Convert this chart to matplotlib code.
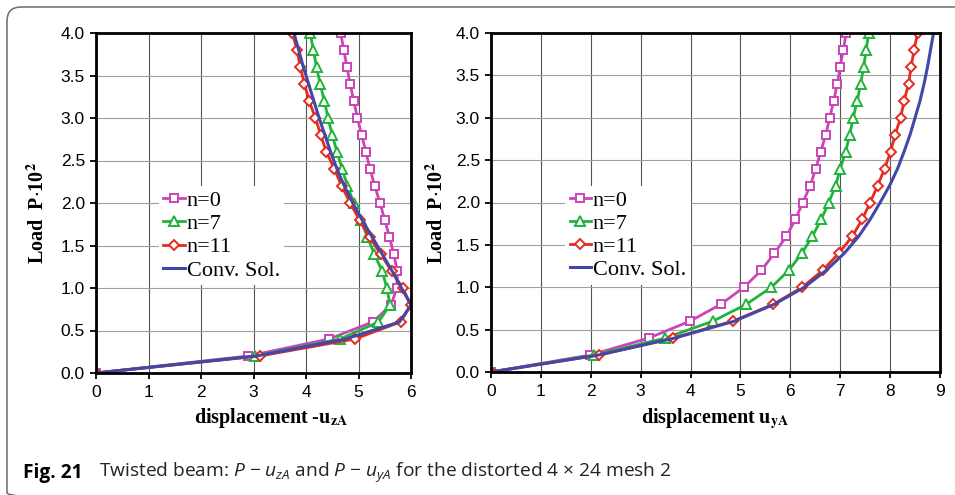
# %% importing modules
import matplotlib
matplotlib.use('Agg')
import matplotlib.pyplot as plt
from matplotlib.patches import FancyBboxPatch

# %% data (load steps of 0.2, P*10^2)
load = [0.0, 0.2, 0.4, 0.6, 0.8, 1.0, 1.2, 1.4, 1.6, 1.8, 2.0,
        2.2, 2.4, 2.6, 2.8, 3.0, 3.2, 3.4, 3.6, 3.8, 4.0]

# displacement -u_zA
uz_n0 = [0, 2.90, 4.44, 5.27, 5.62, 5.73, 5.74, 5.67, 5.59, 5.50, 5.41,
         5.31, 5.22, 5.14, 5.06, 4.98, 4.91, 4.84, 4.78, 4.72, 4.66]
uz_n7 = [0, 3.02, 4.65, 5.38, 5.60, 5.54, 5.45, 5.30, 5.17, 5.04, 4.91,
         4.79, 4.69, 4.59, 4.50, 4.42, 4.35, 4.27, 4.20, 4.14, 4.08]
uz_n11 = [0, 3.12, 4.93, 5.80, 6.00, 5.84, 5.63, 5.42, 5.21, 5.02, 4.84,
          4.68, 4.54, 4.39, 4.28, 4.18, 4.06, 3.97, 3.89, 3.83, 3.74]
uz_conv = [0, 3.05, 4.75, 5.78, 6.00, 5.82, 5.64, 5.45, 5.26, 5.07, 4.89,
           4.73, 4.59, 4.47, 4.36, 4.25, 4.15, 4.05, 3.95, 3.86, 3.77]

# displacement u_yA
uy_n0 = [0, 1.99, 3.16, 3.99, 4.61, 5.07, 5.42, 5.68, 5.92, 6.10, 6.25,
         6.40, 6.51, 6.61, 6.71, 6.79, 6.87, 6.94, 7.00, 7.06, 7.12]
uy_n7 = [0, 2.07, 3.49, 4.45, 5.12, 5.62, 5.97, 6.23, 6.44, 6.62, 6.77,
         6.91, 7.00, 7.11, 7.19, 7.26, 7.34, 7.41, 7.47, 7.52, 7.57]
uy_n11 = [0, 2.17, 3.64, 4.85, 5.66, 6.24, 6.65, 6.97, 7.24, 7.44, 7.60,
          7.75, 7.89, 8.01, 8.10, 8.21, 8.28, 8.37, 8.42, 8.48, 8.55]
uy_conv = [0, 2.15, 3.68, 4.88, 5.68, 6.28, 6.72, 7.08, 7.37, 7.60, 7.80,
           7.99, 8.15, 8.28, 8.40, 8.50, 8.60, 8.68, 8.75, 8.81, 8.87]

series_labels = ['n=0', 'n=7', 'n=11', 'Conv. Sol.']
x_ticks_left = [0, 1, 2, 3, 4, 5, 6]
x_ticks_right = [0, 1, 2, 3, 4, 5, 6, 7, 8, 9]
y_ticks = [0.0, 0.5, 1.0, 1.5, 2.0, 2.5, 3.0, 3.5, 4.0]

caption_bold = 'Fig. 21'
caption_text = ('Twisted beam: $P$ \u2212 $u_{zA}$ and $P$ \u2212 $u_{yA}$ '
                'for the distorted 4 \u00d7 24 mesh 2')

# %% style
plt.rcParams['mathtext.fontset'] = 'custom'
plt.rcParams['mathtext.rm'] = 'Open Sans'
plt.rcParams['mathtext.it'] = 'Open Sans:italic'
plt.rcParams['mathtext.bf'] = 'Open Sans:bold'

c_n0 = '#CC44B8'
c_n7 = '#1FB33C'
c_n11 = '#E62A1E'
c_conv = '#4347A8'

serif = 'Liberation Serif'
sans = 'Liberation Sans'

fig = plt.figure(figsize=(9.55, 4.95), dpi=100)

# rounded frame around the whole figure
bg = fig.add_axes([0, 0, 1, 1], zorder=-5)
bg.set_xlim(0, 955)
bg.set_ylim(495, 0)
bg.axis('off')
bg.add_patch(FancyBboxPatch((7, 7), 970, 500,
                            boxstyle='round,pad=0,rounding_size=14',
                            fc='none', ec='#6b6b6b', lw=1.1))

ax1 = fig.add_axes([96 / 955, 1 - 373 / 495, 315 / 955, 340 / 495])
ax2 = fig.add_axes([491 / 955, 1 - 372 / 495, 449 / 955, 339 / 495])


def draw(ax, x0, x7, x11, xc, xmax, xticks, xlabel, xlab_xy, ylab_x, leg_x):
    ax.plot(x0, load, color=c_n0, lw=2, marker='s', ms=5.5, mfc='white',
            mec=c_n0, mew=1.4, label=series_labels[0])
    ax.plot(x7, load, color=c_n7, lw=2, marker='^', ms=6.5, mfc='white',
            mec=c_n7, mew=1.4, label=series_labels[1])
    ax.plot(x11, load, color=c_n11, lw=2, marker='D', ms=5.5, mfc='white',
            mec=c_n11, mew=1.4, label=series_labels[2])
    ax.plot(xc, load, color=c_conv, lw=2.2, label=series_labels[3])

    ax.set_xlim(0, xmax)
    ax.set_ylim(0, 4)
    ax.set_xticks(xticks)
    ax.set_yticks(y_ticks)
    ax.set_yticklabels(['%.1f' % v for v in y_ticks])
    ax.tick_params(direction='out', length=4, width=1.3, pad=4,
                   labelsize=12.5)
    ax.tick_params(axis='x', pad=4.5)
    for lab in ax.get_xticklabels() + ax.get_yticklabels():
        lab.set_family(sans)

    ax.xaxis.grid(True, color='#555555', lw=0.8)
    ax.yaxis.grid(True, color='#a0a0a0', lw=0.8)
    ax.set_axisbelow(True)
    for sp in ax.spines.values():
        sp.set_linewidth(2)
        sp.set_color('black')

    ax.set_xlabel(xlabel, family=serif, fontweight='bold', fontsize=14.5,
                  math_fontfamily='stix', va='center')
    ax.xaxis.set_label_coords(*xlab_xy)
    ax.set_ylabel(r'Load  P$\cdot$10$^{\mathbf{2}}$', family=serif,
                  fontweight='bold', fontsize=14.5, math_fontfamily='stix',
                  va='center')
    ax.yaxis.set_label_coords(ylab_x, 0.47)

    leg = ax.legend(loc='upper left', bbox_to_anchor=(leg_x, 0.55),
                    prop={'family': serif, 'size': 16}, frameon=True,
                    fancybox=False, edgecolor='none', facecolor='white',
                    framealpha=1, numpoints=1, handlelength=0.95,
                    handletextpad=0.1, labelspacing=0.12, borderpad=0.2,
                    borderaxespad=0)
    return leg


draw(ax1, uz_n0, uz_n7, uz_n11, uz_conv, 6, x_ticks_left,
     r'displacement -u$_{\mathbf{zA}}$', (0.557, -0.132), -0.184, 0.2)
draw(ax2, uy_n0, uy_n7, uy_n11, uy_conv, 9, x_ticks_right,
     r'displacement u$_{\mathbf{yA}}$', (0.5, -0.136), -0.12, 0.165)

# %% caption
fig.text(23 / 955, 1 - 473 / 495, caption_bold, family='Open Sans',
         fontweight='bold', fontsize=13.8, va='center')
fig.text(99 / 955, 1 - 473 / 495, caption_text, family=['Open Sans', 'DejaVu Sans'],
         fontsize=13.8, va='center', color='#222222')

fig.savefig('out.png', dpi=100)
